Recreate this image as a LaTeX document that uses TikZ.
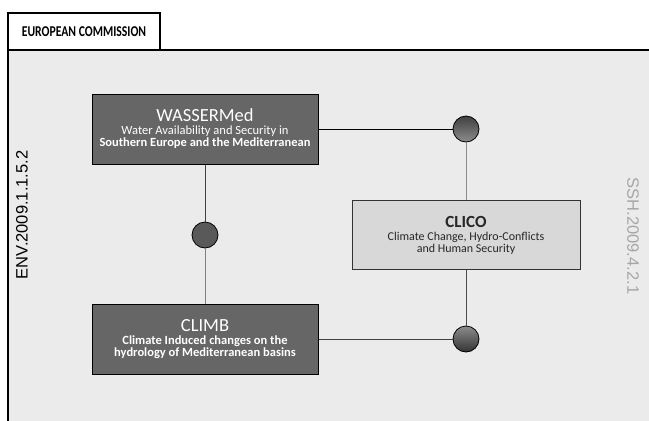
\documentclass[tikz,border=0pt]{standalone}
\usepackage{fontspec}
\setmainfont{Carlito}
\newfontfamily\narrowfont[FakeStretch=0.78]{Carlito}
\newfontfamily\arialfont{Liberation Sans}
\usetikzlibrary{positioning, shapes}

\definecolor{bgray}{HTML}{EBEBEB}
\definecolor{dbox}{HTML}{666666}
\definecolor{lbox}{HTML}{D8D8D8}

\begin{document}
\begin{tikzpicture}[x=1pt,y=-1pt,
  darkbox/.style={draw=black, line width=1pt, fill=dbox, text=white, minimum width=226pt, minimum height=70pt, align=center, inner sep=0pt},
  lightbox/.style={draw=black!80, line width=0.8pt, fill=lbox, text=black!85, minimum width=228pt, minimum height=69pt, align=center, inner sep=0pt},
  hub/.style={circle, draw=black, line width=0.8pt, minimum size=26pt, inner sep=0pt},
  link/.style={line width=1pt}]
\useasboundingbox (0,0) -- (649,0) -- (649,421) -- (0,421) -- cycle;
\fill[bgray] (8,50) -- (649,50) -- (649,421) -- (8,421) -- cycle;
\draw[line width=1.2pt, fill=white] (8,50) -- (8,13) -- (160,13) -- (160,50) -- cycle;
\draw[line width=1.2pt] (8,421) -- (8,50) -- (649,50);
\node (ec) at (84,32) {\narrowfont\bfseries\fontsize{15}{17}\selectfont EUROPEAN COMMISSION};

\node[darkbox] (wass) at (205,129) {{\fontsize{18.5}{19}\selectfont WASSERMed}\\[1pt]
  {\fontsize{12.5}{15}\selectfont Water Availability and Security in}\\
  {\fontsize{12.5}{15}\selectfont\bfseries Southern Europe and the Mediterranean}};
\node[darkbox] (climb) at (205,339) {{\fontsize{18.5}{19}\selectfont CLIMB}\\[1pt]
  {\fontsize{12.5}{15}\selectfont\bfseries Climate Induced changes on the}\\
  {\fontsize{12.5}{15}\selectfont\bfseries hydrology of Mediterranean basins}};
\node[lightbox] (clico) at (466,235) {{\fontsize{17}{19}\selectfont\bfseries CLICO}\\[1pt]
  {\fontsize{12}{15}\selectfont Climate Change, Hydro-Conflicts}\\
  {\fontsize{12}{15}\selectfont and Human Security}};

\node[hub, top color=black!75, bottom color=black!45] (h1) at (466,129) {};
\node[hub, fill=black!65] (h2) at (205,235) {};
\node[hub, top color=black!45, bottom color=black!80] (h3) at (466,339) {};

\draw[link] (wass) -- (h1);
\draw[link, black!45] (h1) -- (clico);
\draw[link, black!75] (wass) -- (h2);
\draw[link, black!50] (h2) -- (climb);
\draw[link, black!75] (climb) -- (h3);
\draw[link, black!70] (clico) -- (h3);

\node[rotate=90, text=black] (env) at (22,215) {\arialfont\fontsize{16.5}{18}\selectfont ENV.2009.1.1.5.2};
\node[rotate=-90, text=black!35] (ssh) at (633,236) {\arialfont\fontsize{16.5}{18}\selectfont SSH.2009.4.2.1};
\end{tikzpicture}
\end{document}
